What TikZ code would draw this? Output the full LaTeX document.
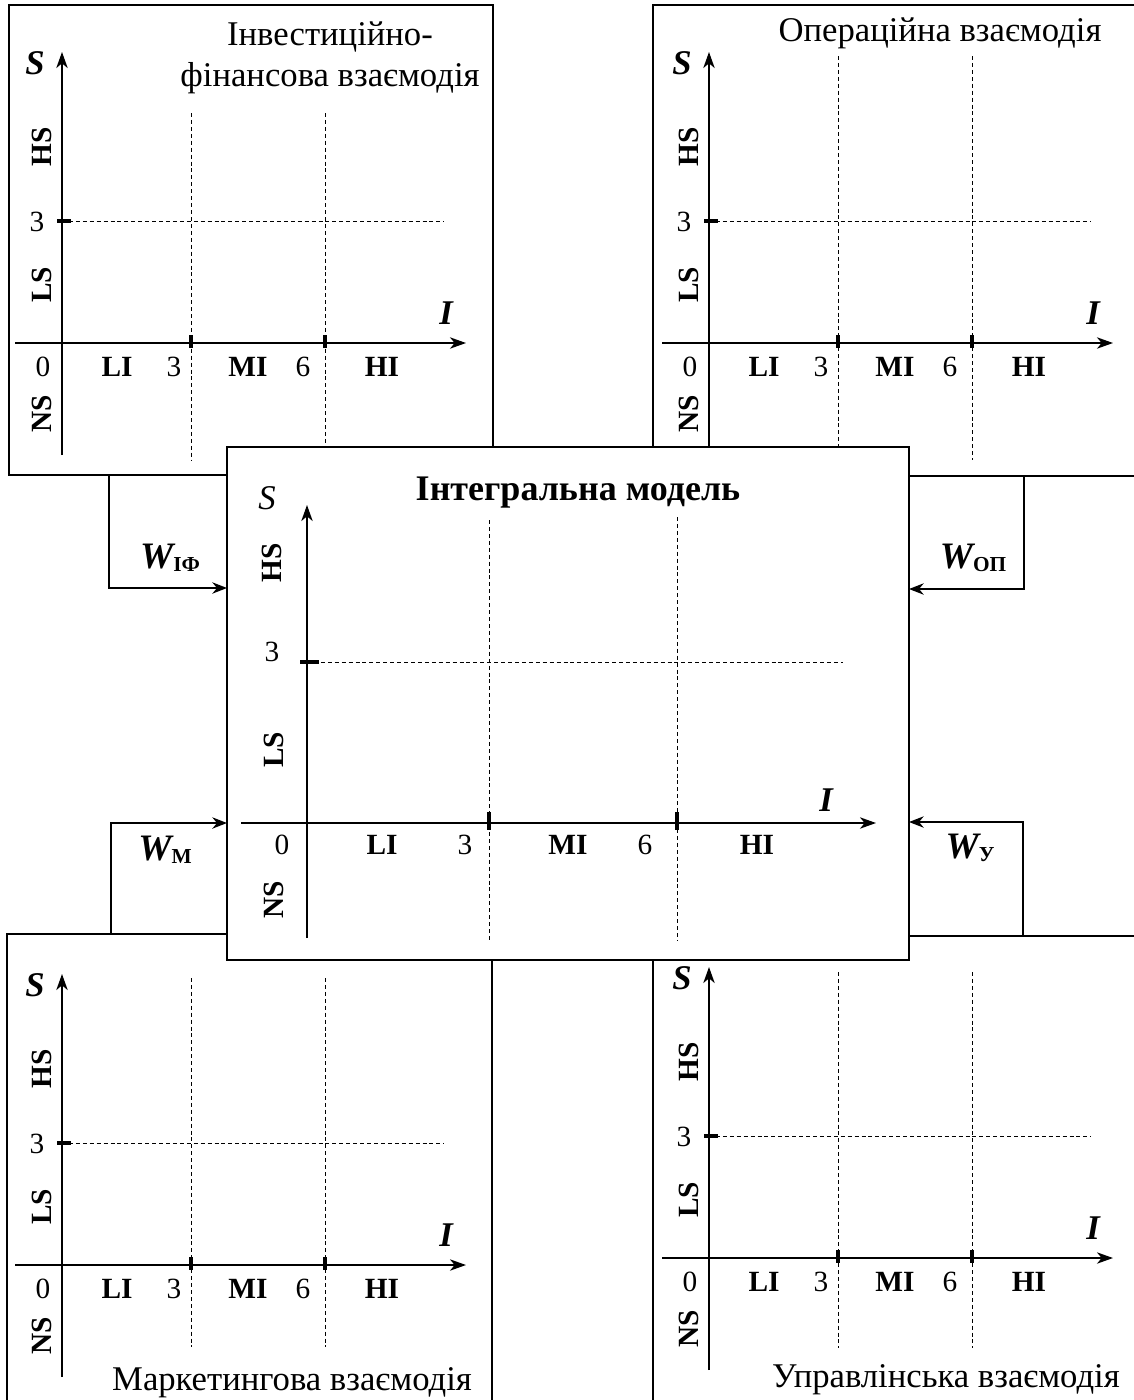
\documentclass[tikz,border=0pt]{standalone}
\usepackage{fontspec}
\setmainfont{Liberation Serif}
\usetikzlibrary{arrows.meta,fit}

\tikzset{
  box/.style={draw, line width=1.2pt, fill=white, inner sep=0pt, outer sep=0pt},
  axis/.style={line width=1.3pt, -{Stealth[length=12pt,width=8.5pt,inset=3.5pt]}},
  gridl/.style={line width=0.6pt, dash pattern=on 3pt off 2.2pt},
  tck/.style={line width=3pt},
  conn/.style={line width=1.3pt, -{Stealth[length=11pt,width=8.5pt,inset=3.5pt]}},
  lab/.style={font=\fontsize{22}{26}\selectfont, inner sep=0pt},
  blab/.style={font=\fontsize{22}{26}\selectfont\bfseries, inner sep=0pt},
  rlab/.style={blab, rotate=90},
  svar/.style={font=\fontsize{26}{30}\selectfont\itshape, inner sep=0pt},
  var/.style={font=\fontsize{26}{30}\selectfont\bfseries\itshape, inner sep=0pt},
  ttl/.style={font=\fontsize{26}{30}\selectfont, inner sep=0pt, anchor=base},
  wlab/.style={font=\fontsize{28}{32}\selectfont, inner sep=0pt},
}

\newcommand\wsub[1]{{\bfseries\itshape W}{\fontsize{16}{18}\selectfont\bfseries\raisebox{-2pt}{#1}}}

% #1 name, #2 ox, #3 oy, #4 dashed top offset, #5 dashed bottom offset
\newcommand\smallchart[5]{%
\begin{scope}[shift={(#2,#3)}]
  \coordinate (#1o) at (0,0);
  \draw[gridl] (0,-122) -- (382,-122);
  \draw[gridl] (129,#4) -- (129,#5);
  \draw[gridl] (263,#4) -- (263,#5);
  \draw[axis] (-47,0) -- (404,0);
  \draw[axis] (0,112) -- (0,-291);
  \draw[tck] (129,-8) -- (129,5);
  \draw[tck] (263,-8) -- (263,5);
  \draw[tck] (-5,-122) -- (9,-122);
  \node[svar, font=\fontsize{26}{30}\selectfont\bfseries\itshape] (#1S) at (-27,-280) {S};
  \node[lab] (#1y3) at (-25,-121) {3};
  \node[rlab] (#1HS) at (-20,-196) {HS};
  \node[rlab] (#1LS) at (-20,-58) {LS};
  \node[rlab] (#1NS) at (-20,71) {NS};
  \node[lab] (#1z) at (-19,24) {0};
  \node[blab] (#1LI) at (55,24) {LI};
  \node[lab] (#1x3) at (112,24) {3};
  \node[blab] (#1MI) at (186,24) {MI};
  \node[lab] (#1x6) at (241,24) {6};
  \node[blab] (#1HI) at (320,24) {HI};
  \node[var] (#1I) at (384,-30) {I};
\end{scope}}

\begin{document}
\begin{tikzpicture}[x=0.75pt, y=-0.75pt]
\useasboundingbox (0,0) rectangle (1134,1400);

% ---- outer panels ----
\node[box, fit={(9,5) (493,475)}] (TL) {};
\node[box, fit={(653,5) (1145,476)}] (TR) {};
\node[box, fit={(7,934) (492,1410)}] (BL) {};
\node[box, fit={(653,936) (1145,1410)}] (BR) {};

\smallchart{tl}{62}{343}{-230}{117}
\smallchart{tr}{709}{343}{-287}{117}
\smallchart{bl}{62}{1265}{-287}{82}
\smallchart{br}{709}{1258}{-286}{90}

\node[ttl] (tlt1) at (330,45) {Інвестиційно-};
\node[ttl] (tlt2) at (330,86) {фінансова взаємодія};
\node[ttl] (trt) at (940,41) {Операційна взаємодія};
\node[ttl] (blt) at (292,1390) {Маркетингова взаємодія};
\node[ttl] (brt) at (946,1387) {Управлінська взаємодія};

% ---- central box ----
\node[box, fit={(227,447) (909,960)}] (C) {};

\begin{scope}[shift={(307,823)}]
  \coordinate (co) at (0,0);
  \draw[gridl] (0,-161) -- (536,-161);
  \draw[gridl] (182,-303) -- (182,117);
  \draw[gridl] (370,-306) -- (370,117);
  \draw[axis] (-66,0) -- (569,0);
  \draw[axis] (0,115) -- (0,-318);
  \draw[tck] (182,-11) -- (182,7);
  \draw[tck] (370,-11) -- (370,7);
  \draw[tck] (-7,-161) -- (12,-161);
  \node[svar] (cS) at (-40,-325) {S};
  \node[rlab] (cHS) at (-35,-260) {HS};
  \node[lab] (cy3) at (-35,-171) {3};
  \node[rlab] (cLS) at (-33,-73) {LS};
  \node[rlab] (cNS) at (-33,77) {NS};
  \node[lab] (cz) at (-25,22) {0};
  \node[blab] (cLI) at (75,22) {LI};
  \node[lab] (cx3) at (158,22) {3};
  \node[blab] (cMI) at (261,22) {MI};
  \node[lab] (cx6) at (338,22) {6};
  \node[blab] (cHI) at (450,22) {HI};
  \node[var] (cI) at (519,-23) {I};
\end{scope}
\node[ttl, font=\fontsize{27}{31}\selectfont\bfseries] (ct) at (578,500) {Інтегральна модель};

% ---- connectors ----
\coordinate (jIF) at (109,588);
\coordinate (jOP) at (1024,589);
\coordinate (jM) at (111,823);
\coordinate (jU) at (1023,822);
\draw[conn] (jIF |- TL.south) -- (jIF) -- (jIF -| C.west);
\draw[conn] (jOP |- TR.south) -- (jOP) -- (jOP -| C.east);
\draw[conn] (jM |- BL.north) -- (jM) -- (jM -| C.west);
\draw[conn] (jU |- BR.north) -- (jU) -- (jU -| C.east);

\node[wlab] (wIF) at (170,558) {\wsub{ІФ}};
\node[wlab] (wOP) at (973,558) {\wsub{ОП}};
\node[wlab] (wM) at (165,850) {\wsub{М}};
\node[wlab] (wU) at (970,848) {\wsub{У}};
\end{tikzpicture}
\end{document}
